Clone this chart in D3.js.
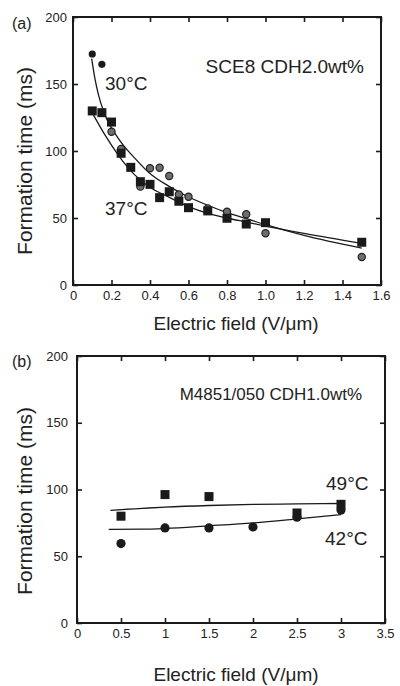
<!DOCTYPE html>
<html>
<head>
<meta charset="utf-8">
<script src="https://cdn.jsdelivr.net/npm/d3@7"></script>
<style>
  html, body { margin: 0; padding: 0; background: #fff; }
  svg { display: block; }
  text { font-family: "Liberation Sans", Arial, Helvetica, sans-serif; fill: #222; }
</style>
</head>
<body>
<svg id="chart" width="400" height="686"></svg>
<script>
// ---------- Panel (a) data: SCE8 CDH2.0wt% ----------
const aTicksX = [0, 0.2, 0.4, 0.6, 0.8, 1.0, 1.2, 1.4, 1.6];
const aTickLabelsX = ["0", "0.2", "0.4", "0.6", "0.8", "1.0", "1.2", "1.4", "1.6"];
const ticksY = [0, 50, 100, 150, 200];

// 37°C squares
const a37Field = [0.1, 0.15, 0.2, 0.25, 0.3, 0.35, 0.4, 0.45, 0.5, 0.55, 0.6, 0.7, 0.8, 0.9, 1.0, 1.5];
const a37Time  = [129.9, 128.6, 121.6, 98.3, 87.8, 77.1, 75.1, 65.2, 69.6, 62.5, 57.7, 55.3, 49.8, 45.5, 46.5, 31.9];

// 30°C circles (black)
const a30BlackField = [0.1, 0.15];
const a30BlackTime  = [172.4, 164.7];
// 30°C circles (grey)
const a30GreyField = [0.2, 0.25, 0.35, 0.4, 0.45, 0.5, 0.55, 0.6, 0.7, 0.8, 0.9, 1.0, 1.5];
const a30GreyTime  = [114.4, 101.5, 73.4, 87.1, 87.5, 81.3, 67.5, 65.9, 57.2, 54.7, 52.8, 38.6, 20.9];

// fitted curves
const a30FitField = [0.097, 0.114, 0.132, 0.166, 0.235, 0.322, 0.409, 0.495, 0.582, 0.7, 0.8, 0.9, 1.0, 1.2, 1.5];
const a30FitTime  = [169, 154, 142, 127, 109.5, 94.5, 82, 74, 67, 59.5, 54, 49.5, 45, 37, 27.5];
const a37FitField = [0.106, 0.166, 0.235, 0.322, 0.409, 0.478, 0.6, 0.7, 0.8, 0.9, 1.0, 1.2, 1.5];
const a37FitTime  = [127, 112, 97, 82, 72, 67, 58.5, 53.5, 50, 47, 44, 38.5, 31];

// ---------- Panel (b) data: M4851/050 CDH1.0wt% ----------
const bTicksX = [0, 0.5, 1, 1.5, 2, 2.5, 3, 3.5];
const bTickLabelsX = ["0", "0.5", "1", "1.5", "2", "2.5", "3", "3.5"];

const b49Field = [0.5, 1.0, 1.5, 2.5, 3.0];
const b49Time  = [80, 96.2, 94.7, 82.4, 88.9];
const b42Field = [0.5, 1.0, 1.5, 2.0, 2.5, 3.0];
const b42Time  = [59.5, 71.2, 71.2, 71.9, 79.2, 84.6];

const b49FitField = [0.38, 1.0, 1.5, 2.0, 2.5, 3.0];
const b49FitTime  = [84.4, 86.8, 88.0, 88.8, 89.2, 89.5];
const b42FitField = [0.36, 0.75, 1.0, 1.5, 2.0, 2.5, 3.0];
const b42FitTime  = [70.2, 70.3, 70.8, 72.8, 75.0, 78.0, 81.2];

const svg = d3.select("#chart");
const INK = "#1a1a1a";

function panel(cfg) {
  const x = d3.scaleLinear().domain(cfg.xDomain).range([cfg.left, cfg.right]);
  const y = d3.scaleLinear().domain([0, 200]).range([cfg.bottom, cfg.top]);
  const g = svg.append("g");
  const tl = 5;

  g.append("rect").attr("x", cfg.left).attr("y", cfg.top)
    .attr("width", cfg.right - cfg.left).attr("height", cfg.bottom - cfg.top)
    .attr("fill", "none").attr("stroke", INK).attr("stroke-width", 2);

  const xb = d3.axisBottom(x).tickValues(cfg.xTicks).tickSize(-tl).tickFormat((d, i) => cfg.xLabels[i]).tickPadding(6);
  const xt = d3.axisTop(x).tickValues(cfg.xTicks).tickSize(-tl).tickFormat("");
  const yl = d3.axisLeft(y).tickValues(ticksY).tickSize(-tl).tickPadding(cfg.yPad);
  const yr = d3.axisRight(y).tickValues(ticksY).tickSize(-tl).tickFormat("");

  function style(sel) {
    sel.select(".domain").remove();
    sel.selectAll(".tick line").attr("stroke", INK).attr("stroke-width", 1.6);
    sel.selectAll(".tick text").attr("font-size", 13).attr("fill", "#222")
      .attr("font-family", "'Liberation Sans', Arial, sans-serif");
  }
  g.append("g").attr("transform", `translate(0,${cfg.bottom})`).call(xb).call(style);
  g.append("g").attr("transform", `translate(0,${cfg.top})`).call(xt).call(style);
  g.append("g").attr("transform", `translate(${cfg.left},0)`).call(yl).call(style);
  g.append("g").attr("transform", `translate(${cfg.right},0)`).call(yr).call(style);

  g.append("text").attr("x", 236).attr("y", cfg.xTitleY)
    .attr("text-anchor", "middle").attr("font-size", 19).text("Electric field (V/\u03BCm)");
  g.append("text").attr("transform", `translate(${cfg.yTitleX},${cfg.yTitleC}) rotate(-90)`)
    .attr("text-anchor", "middle").attr("font-size", 21).text("Formation time (ms)");
  g.append("text").attr("x", 12).attr("y", cfg.tagY).attr("font-size", 16).text(cfg.tag);

  return { g, x, y };
}

function drawLine(p, xs, ys) {
  const pts = xs.map((v, i) => [v, ys[i]]);
  p.g.append("path").datum(pts)
    .attr("d", d3.line().x(d => p.x(d[0])).y(d => p.y(d[1])).curve(d3.curveMonotoneX))
    .attr("fill", "none").attr("stroke", INK).attr("stroke-width", 1.3);
}
function drawCircles(p, xs, ys, r, fill, stroke) {
  p.g.append("g").selectAll("circle").data(xs.map((v, i) => [v, ys[i]])).join("circle")
    .attr("cx", d => p.x(d[0])).attr("cy", d => p.y(d[1])).attr("r", r)
    .attr("fill", fill).attr("stroke", stroke).attr("stroke-width", stroke === "none" ? 0 : 1.2);
}
function drawSquares(p, xs, ys, s) {
  p.g.append("g").selectAll("rect").data(xs.map((v, i) => [v, ys[i]])).join("rect")
    .attr("x", d => p.x(d[0]) - s / 2).attr("y", d => p.y(d[1]) - s / 2)
    .attr("width", s).attr("height", s).attr("fill", INK);
}

// ---------- Panel (a) ----------
const pa = panel({
  xDomain: [0, 1.6], left: 73, right: 381, top: 17, bottom: 285, yPad: 6,
  xTicks: aTicksX, xLabels: aTickLabelsX, xTitleY: 330, yTitleX: 32, yTitleC: 161, tag: "(a)", tagY: 29
});
drawLine(pa, a30FitField, a30FitTime);
drawLine(pa, a37FitField, a37FitTime);
drawCircles(pa, a30GreyField, a30GreyTime, 3.6, "#6e6e6e", "#222");
drawSquares(pa, a37Field, a37Time, 9);
drawCircles(pa, a30BlackField, a30BlackTime, 3.6, INK, "none");
pa.g.append("text").attr("x", 364).attr("y", 73).attr("text-anchor", "end").attr("font-size", 19).text("SCE8 CDH2.0wt%");
pa.g.append("text").attr("x", 105).attr("y", 90).attr("font-size", 19).text("30\u00B0C");
pa.g.append("text").attr("x", 105).attr("y", 215).attr("font-size", 19).text("37\u00B0C");

// ---------- Panel (b) ----------
const pb = panel({
  xDomain: [0, 3.5], left: 77, right: 385, top: 356, bottom: 623, yPad: 9,
  xTicks: bTicksX, xLabels: bTickLabelsX, xTitleY: 681, yTitleX: 32, yTitleC: 501, tag: "(b)", tagY: 367
});
drawLine(pb, b49FitField, b49FitTime);
drawLine(pb, b42FitField, b42FitTime);
drawSquares(pb, b49Field, b49Time, 9);
drawCircles(pb, b42Field, b42Time, 4.6, INK, "none");
pb.g.append("text").attr("x", 362).attr("y", 400).attr("text-anchor", "end").attr("font-size", 17).text("M4851/050 CDH1.0wt%");
pb.g.append("text").attr("x", 326).attr("y", 490).attr("font-size", 19).text("49\u00B0C");
pb.g.append("text").attr("x", 325).attr("y", 545).attr("font-size", 19).text("42\u00B0C");
</script>
</body>
</html>
